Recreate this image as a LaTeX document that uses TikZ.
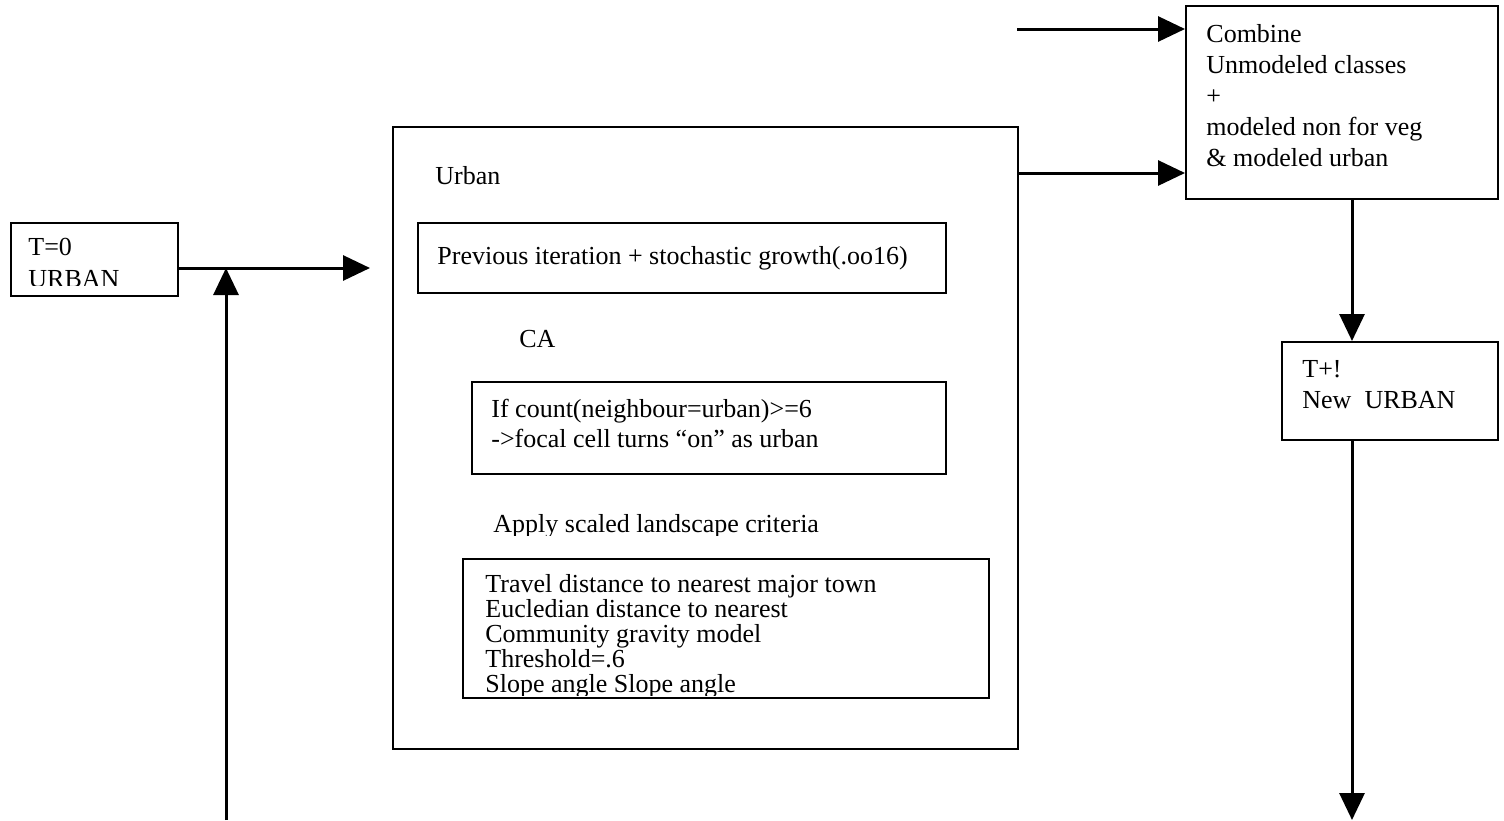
\documentclass[tikz,border=0pt]{standalone}
\usepackage{fontspec}
\setmainfont{Liberation Serif}
\usetikzlibrary{arrows.meta}
\begin{document}
\begin{tikzpicture}[x=0.5pt,y=-0.5pt,
  box/.style={draw,line width=1pt,anchor=north west,inner sep=0pt},
  txt/.style={anchor=base west,inner sep=0pt,font=\fontsize{13pt}{15.5pt}\selectfont,align=left},
  arr/.style={line width=1.5pt,-{Triangle[length=13.5pt,width=12.5pt]}}]
\useasboundingbox (0,0) rectangle (1504,820);
% boxes
\node[box,minimum width=83.5pt,minimum height=36.5pt] (t0) at (10,222) {};
\node[box,minimum width=312.5pt,minimum height=311pt] (main) at (392,126) {};
\node[box,minimum width=264pt,minimum height=35pt] (prev) at (417,222) {};
\node[box,minimum width=237pt,minimum height=46pt] (ifc) at (471,381) {};
\node[box,minimum width=263pt,minimum height=69.5pt] (crit) at (462,558) {};
\node[box,minimum width=156pt,minimum height=96.5pt] (comb) at (1185,5) {};
\node[box,minimum width=108pt,minimum height=49pt] (tnew) at (1281,341) {};
% texts (anchored at the baseline of the last line)
\begin{scope}
\clip (10,222) rectangle (177,285);
\node[txt,font=\fontsize{13pt}{16pt}\selectfont] (t0t) at (28,287) {T=0\\URBAN};
\end{scope}
\node[txt] (urb) at (435,184) {Urban};
\node[txt] (prevt) at (437,264) {Previous iteration + stochastic growth(.oo16)};
\node[txt] (ca) at (519,347) {CA};
\node[txt,font=\fontsize{13pt}{15pt}\selectfont] (ifct) at (491,447) {If count(neighbour=urban)>=6\\->focal cell turns “on” as urban};
\begin{scope}
\clip (392,500) rectangle (1017,535);
\node[txt] (apply) at (493,532) {Apply scaled landscape criteria};
\end{scope}
\begin{scope}
\clip (462,558) rectangle (988,695);
\node[txt,font=\fontsize{13pt}{12.5pt}\selectfont] (critt) at (485,692) {Travel distance to nearest major town\\Eucledian distance to nearest\\Community gravity model\\Threshold=.6\\Slope angle Slope angle};
\end{scope}
\node[txt] (combt) at (1206,166) {Combine\\Unmodeled classes\\+\\modeled non for veg\\\& modeled urban};
\node[txt] (tnewt) at (1302,408) {T+!\\New\ \ URBAN};
% connectors
\coordinate (a1) at (177,268);
\draw[arr,shorten >=11pt] (a1) -- (a1 -| main.west);
\coordinate (fb) at (226,820);
\draw[arr] (fb) -- (fb |- a1);
\coordinate (a2) at (1017,173);
\draw[arr] (a2) -- (a2 -| comb.west);
\coordinate (a3) at (1017,29);
\draw[arr] (a3) -- (a3 -| comb.west);
\coordinate (a4) at (1352,198);
\draw[arr] (a4) -- (a4 |- tnew.north);
\coordinate (a5) at (1352,820);
\draw[arr] (a4 |- tnew.south) -- (a5);
\end{tikzpicture}
\end{document}
